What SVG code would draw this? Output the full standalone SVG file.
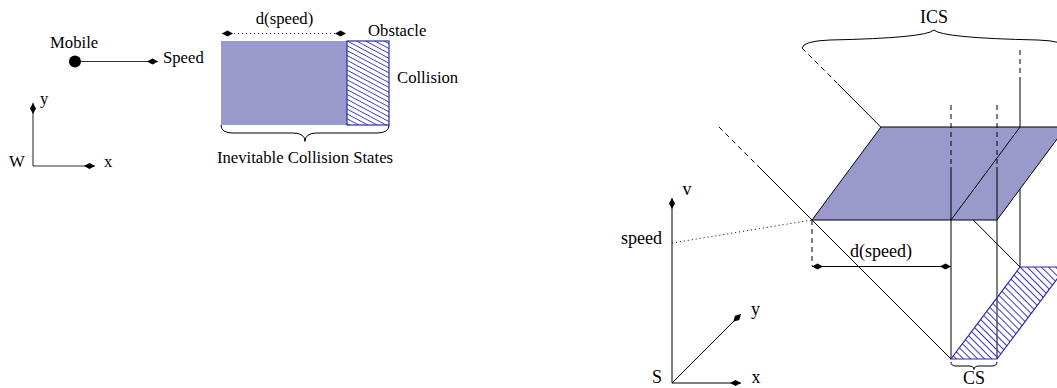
<svg xmlns="http://www.w3.org/2000/svg" width="1057" height="388" viewBox="0 0 1057 388">
<style>
text{font-family:"Liberation Serif","Times New Roman",serif;fill:#000}
.l{font-size:16.7px}
.r{font-size:18px}
.ln{stroke:#000;stroke-width:1;fill:none}
.gl{stroke:#333;stroke-width:1.1;fill:none}
.dash{stroke-dasharray:5 4}
.dot{stroke-dasharray:1 3}
.fillc{fill:#9999cc}
.hb{stroke:#2b2bb0;stroke-width:1.2}
.mid{text-anchor:middle}
</style>
<defs>
<marker id="ah" viewBox="-11 -3.5 12 7" refX="0" refY="0" markerWidth="12" markerHeight="7" markerUnits="userSpaceOnUse" orient="auto-start-reverse">
<path d="M0,0 L-5.5,-3 L-11,0 L-5.5,3 Z" fill="#000"/>
</marker>
<pattern id="h30" patternUnits="userSpaceOnUse" width="10" height="4.3" patternTransform="rotate(28)">
<path d="M0,2.15 H10" stroke="#3a3ab8" stroke-width="0.9"/>
</pattern>
<pattern id="h45" patternUnits="userSpaceOnUse" width="10" height="5" patternTransform="rotate(45)">
<path d="M0,2.5 H10" stroke="#3a3ab8" stroke-width="1"/>
</pattern>
</defs>

<g id="world-left">
<text class="l" x="50" y="48">Mobile</text>
<circle cx="75" cy="61.5" r="6" fill="#000"/>
<path class="gl" d="M81,61.5 H158" marker-end="url(#ah)"/>
<text class="l" x="163" y="63">Speed</text>
<path class="gl" d="M33,166 V103" marker-end="url(#ah)"/>
<path class="gl" d="M33,166 H95" marker-end="url(#ah)"/>
<text class="l" x="40" y="104">y</text>
<text class="l" x="9" y="167">W</text>
<text class="l" x="104" y="167">x</text>
</g>

<g id="ics-left">
<rect class="fillc" x="221" y="41" width="126" height="84"/>
<rect x="347" y="41" width="42" height="84" fill="url(#h30)" class="hb"/>
<path class="gl dot" d="M222,33.5 H346" marker-start="url(#ah)" marker-end="url(#ah)"/>
<text class="l mid" x="284.5" y="24">d(speed)</text>
<text class="l" x="368" y="36">Obstacle</text>
<text class="l" x="397" y="83">Collision</text>
<path class="ln" d="M221,125 Q221,133 233,133 L293,133 Q305,133 305,141.5 Q305,133 317,133 L377,133 Q389,133 389,125"/>
<text class="l mid" x="305" y="163">Inevitable Collision States</text>
</g>

<g id="connectors">
<path class="ln dash" d="M802,48 L838,84"/>
<path class="ln" d="M838,84 L1020,267"/>
<path class="ln dash" d="M1020,50 V80"/>
<path class="ln" d="M1020,80 V267"/>
</g>

<g id="ics-plane">
<polygon class="fillc" points="881,127 1066,127 997,220 812,220" stroke="#000" stroke-width="1"/>
<path class="ln" d="M1020,127 L951,220"/>
</g>

<g id="verticals">
<path class="ln dash" d="M951,105 V167 M997,105 V167"/>
<path class="ln" d="M951,167 V359 M997,167 V359"/>
<path class="ln dash" d="M719,127 L760,168"/>
<path class="ln" d="M760,168 L951,359"/>
<path class="ln dash" d="M812,220 V266"/>
</g>

<g id="cs-region">
<polygon points="951,359 997,359 1066,267 1020,267" fill="url(#h45)" class="hb"/>
<path class="ln" d="M951,362 Q951,366 956,366 L969,366 Q974,366 974,369.5 Q974,366 979,366 L992,366 Q997,366 997,362"/>
<text class="r mid" x="974" y="384">CS</text>
</g>

<g id="dspeed-right">
<path class="ln" d="M812,266.5 H951" marker-start="url(#ah)" marker-end="url(#ah)"/>
<text class="r mid" x="881" y="257">d(speed)</text>
</g>

<g id="axes-right">
<path class="ln" d="M672,383 V198" marker-end="url(#ah)"/>
<path class="ln" d="M672,383 H741" marker-end="url(#ah)"/>
<path class="ln" d="M672,383 L741,314" marker-end="url(#ah)"/>
<text class="r" x="682.5" y="195">v</text>
<text class="r" x="652" y="383">S</text>
<text class="r" x="751.5" y="383">x</text>
<text class="r" x="751" y="315">y</text>
<text class="r" x="662" y="243.5" text-anchor="end">speed</text>
<path class="ln dot" d="M672,243 L812,220"/>
</g>

<g id="ics-brace">
<path class="ln" d="M802,48 Q803,41 830,40 Q926,38 934,30 Q942,38 1038,40 Q1065,41 1066,48"/>
<text class="r mid" x="934" y="23">ICS</text>
</g>
</svg>
